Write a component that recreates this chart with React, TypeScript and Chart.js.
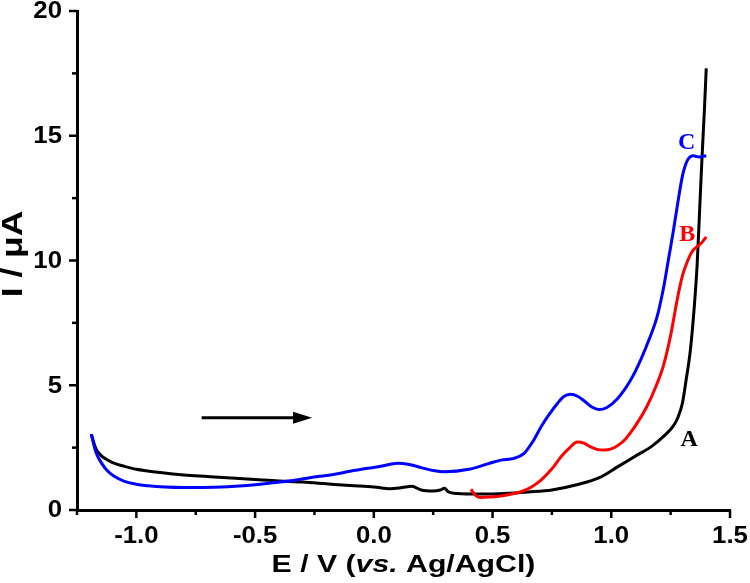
import React, { useEffect, useRef } from "react";
import { Chart, registerables } from "chart.js";

Chart.register(...registerables);

// ---- data ----
const curveA_E = [-1.19, -1.17, -1.15, -1.13, -1.1, -1.05, -1.0, -0.9, -0.8, -0.7, -0.6, -0.5, -0.4, -0.3, -0.2, -0.1, 0.0, 0.07, 0.12, 0.16, 0.2, 0.25, 0.28, 0.297, 0.315, 0.35, 0.45, 0.55, 0.65, 0.75, 0.85, 0.95, 1.03, 1.1, 1.17, 1.22, 1.26, 1.28, 1.3, 1.315, 1.333, 1.35, 1.362, 1.372, 1.382, 1.392, 1.4];
const curveA_I = [3.04, 2.45, 2.2, 2.05, 1.9, 1.75, 1.63, 1.5, 1.4, 1.34, 1.28, 1.22, 1.16, 1.12, 1.05, 0.98, 0.92, 0.85, 0.9, 0.95, 0.8, 0.76, 0.8, 0.87, 0.72, 0.66, 0.64, 0.66, 0.72, 0.8, 1.0, 1.3, 1.75, 2.15, 2.55, 2.95, 3.35, 3.7, 4.3, 5.2, 6.4, 8.2, 9.9, 12.0, 14.1, 16.0, 17.7];

const curveB_E = [0.409, 0.43, 0.45, 0.49, 0.535, 0.58, 0.62, 0.66, 0.704, 0.75, 0.788, 0.82, 0.857, 0.885, 0.913, 0.94, 0.969, 1.0, 1.03, 1.06, 1.1, 1.15, 1.19, 1.22, 1.25, 1.277, 1.3, 1.32, 1.34, 1.36, 1.38, 1.4];
const curveB_I = [0.83, 0.58, 0.5, 0.52, 0.56, 0.64, 0.73, 0.9, 1.2, 1.65, 2.13, 2.45, 2.73, 2.68, 2.53, 2.43, 2.4, 2.45, 2.6, 2.85, 3.35, 4.15, 5.0, 5.8, 7.0, 8.4, 9.4, 9.95, 10.35, 10.55, 10.7, 10.95];

const curveC_E = [-1.19, -1.17, -1.146, -1.12, -1.09, -1.05, -1.0, -0.95, -0.88, -0.8, -0.67, -0.55, -0.46, -0.35, -0.25, -0.17, -0.1, -0.025, 0.03, 0.1, 0.15, 0.2, 0.25, 0.3, 0.4, 0.48, 0.535, 0.59, 0.633, 0.67, 0.704, 0.74, 0.773, 0.8, 0.829, 0.86, 0.885, 0.92, 0.948, 0.98, 1.025, 1.081, 1.123, 1.16, 1.193, 1.22, 1.24, 1.26, 1.28, 1.3, 1.32, 1.345, 1.37, 1.4];
const curveC_I = [3.04, 2.3, 1.87, 1.55, 1.33, 1.15, 1.03, 0.97, 0.92, 0.9, 0.91, 0.97, 1.05, 1.17, 1.32, 1.42, 1.55, 1.67, 1.75, 1.87, 1.82, 1.7, 1.58, 1.53, 1.63, 1.85, 2.0, 2.07, 2.27, 2.75, 3.33, 3.85, 4.27, 4.55, 4.64, 4.55, 4.38, 4.12, 4.03, 4.1, 4.45, 5.2, 6.0, 6.85, 7.75, 8.9, 10.0, 11.1, 12.3, 13.4, 14.0, 14.2, 14.15, 14.2];

const xTickLabels = ["-1.0", "-0.5", "0.0", "0.5", "1.0", "1.5"];
const yTickLabels = ["0", "5", "10", "15", "20"];

const curveNames = ["A", "B", "C"];
const curveColors = ["#000000", "#ff0000", "#0000ff"];
const labelE = [1.328, 1.32, 1.318];
const labelI = [2.87, 11.06, 14.77];

const arrowE = [-0.725, -0.26];
const arrowI = 3.7;

const X_MIN = -1.25;
const X_MAX = 1.5;
const Y_MIN = 0;
const Y_MAX = 20;

function pts(xs: number[], ys: number[]) {
  return xs.map((x, i) => ({ x, y: ys[i] }));
}

const SANS = "'Liberation Sans', Arial, sans-serif";

const decorPlugin = {
  id: "decor",
  afterDraw(chart: any) {
    const ctx = chart.ctx;
    const xs = chart.scales.x;
    const ys = chart.scales.y;
    const area = chart.chartArea;
    ctx.save();
    // ticks
    ctx.strokeStyle = "#000";
    ctx.lineWidth = 2.5;
    ctx.lineCap = "butt";
    for (let v = X_MIN; v <= X_MAX + 1e-9; v += 0.25) {
      const px = xs.getPixelForValue(v);
      const major = Math.abs(v * 2 - Math.round(v * 2)) < 1e-6;
      const len = major ? 8 : 5;
      ctx.beginPath();
      ctx.moveTo(px, area.bottom);
      ctx.lineTo(px, area.bottom + len);
      ctx.stroke();
    }
    for (let v = Y_MIN; v <= Y_MAX + 1e-9; v += 2.5) {
      const py = ys.getPixelForValue(v);
      const major = Math.abs(v / 5 - Math.round(v / 5)) < 1e-6;
      const len = major ? 8 : 5;
      ctx.beginPath();
      ctx.moveTo(area.left, py);
      ctx.lineTo(area.left - len, py);
      ctx.stroke();
    }
    // tick labels (slightly widened like the reference)
    const tsx = 1.12;
    ctx.fillStyle = "#000";
    ctx.font = "bold 23px " + SANS;
    ctx.textBaseline = "middle";
    xTickLabels.forEach((l) => {
      const px = xs.getPixelForValue(parseFloat(l));
      ctx.save();
      ctx.translate(px, area.bottom + 27);
      ctx.scale(tsx, 1);
      ctx.textAlign = "center";
      ctx.fillText(l, 0, 0);
      ctx.restore();
    });
    yTickLabels.forEach((l) => {
      const py = ys.getPixelForValue(parseFloat(l));
      ctx.save();
      ctx.translate(area.left - 15, py + 1);
      ctx.scale(tsx, 1);
      ctx.textAlign = "right";
      ctx.fillText(l, 0, 0);
      ctx.restore();
    });
    // arrow
    const ax0 = xs.getPixelForValue(arrowE[0]);
    const ax1 = xs.getPixelForValue(arrowE[1]);
    const ay = ys.getPixelForValue(arrowI);
    ctx.fillStyle = "#000";
    ctx.lineWidth = 3;
    ctx.beginPath();
    ctx.moveTo(ax0, ay);
    ctx.lineTo(ax1 - 14, ay);
    ctx.stroke();
    ctx.beginPath();
    ctx.moveTo(ax1, ay);
    ctx.lineTo(ax1 - 19, ay - 6);
    ctx.lineTo(ax1 - 19, ay + 6);
    ctx.closePath();
    ctx.fill();
    // curve labels
    ctx.font = "bold 24px 'Liberation Serif', 'DejaVu Serif', serif";
    ctx.textAlign = "center";
    ctx.textBaseline = "middle";
    curveNames.forEach((n, i) => {
      ctx.fillStyle = curveColors[i];
      ctx.fillText(n, xs.getPixelForValue(labelE[i]), ys.getPixelForValue(labelI[i]) + 1);
    });
    // x title with italic part (horizontally widened like the reference)
    const parts = [
      { t: "E / V (", f: "bold 24px " + SANS },
      { t: "vs.", f: "italic bold 24px " + SANS },
      { t: " Ag/AgCl)", f: "bold 24px " + SANS },
    ];
    let total = 0;
    parts.forEach((p) => {
      ctx.font = p.f;
      total += ctx.measureText(p.t).width;
    });
    const sx = 1.26;
    ctx.save();
    ctx.translate((area.left + area.right) / 2 - (total * sx) / 2, 572);
    ctx.scale(sx, 1);
    let cx = 0;
    ctx.fillStyle = "#000";
    ctx.textAlign = "left";
    ctx.textBaseline = "alphabetic";
    parts.forEach((p) => {
      ctx.font = p.f;
      ctx.fillText(p.t, cx, 0);
      cx += ctx.measureText(p.t).width;
    });
    ctx.restore();
    // y title
    ctx.save();
    ctx.translate(14, 254);
    ctx.rotate(-Math.PI / 2);
    ctx.scale(1.18, 1);
    ctx.font = "bold 30px " + SANS;
    ctx.textAlign = "center";
    ctx.textBaseline = "middle";
    ctx.fillStyle = "#000";
    ctx.fillText("I / \u03bcA", 0, 0);
    ctx.restore();
    ctx.restore();
  },
};

export default function App() {
  const ref = useRef<HTMLCanvasElement | null>(null);
  useEffect(() => {
    if (!ref.current) return;
    const mk = (label: string, xsv: number[], ysv: number[], color: string) => ({
      label,
      data: pts(xsv, ysv),
      borderColor: color,
      backgroundColor: color,
      borderWidth: 3,
      pointRadius: 0,
      fill: false,
      cubicInterpolationMode: "monotone" as const,
    });
    const zeroPad = (s: any) => {
      s.paddingTop = 0;
      s.paddingBottom = 0;
      s.paddingLeft = 0;
      s.paddingRight = 0;
    };
    const chart = new Chart(ref.current, {
      type: "line",
      data: {
        datasets: [
          mk("C", curveC_E, curveC_I, curveColors[2]),
          mk("B", curveB_E, curveB_I, curveColors[1]),
          mk("A", curveA_E, curveA_I, curveColors[0]),
        ],
      },
      options: {
        animation: false,
        responsive: false,
        devicePixelRatio: 1,
        layout: { padding: { top: 11, right: 20, left: 0, bottom: 0 } },
        plugins: { legend: { display: false }, tooltip: { enabled: false }, title: { display: false } },
        scales: {
          x: {
            type: "linear",
            min: X_MIN,
            max: X_MAX,
            grid: { display: false, drawTicks: false },
            border: { display: true, color: "#000", width: 3 },
            ticks: { display: false, stepSize: 0.25 },
            afterFit: (s: any) => {
              s.height = 73;
              zeroPad(s);
            },
          },
          y: {
            type: "linear",
            min: Y_MIN,
            max: Y_MAX,
            grid: { display: false, drawTicks: false },
            border: { display: true, color: "#000", width: 3 },
            ticks: { display: false, stepSize: 2.5 },
            afterFit: (s: any) => {
              s.width = 77;
              zeroPad(s);
            },
          },
        },
      },
      plugins: [decorPlugin],
    });
    return () => chart.destroy();
  }, []);
  return (
    <div style={{ position: "absolute", left: 0, top: 0, width: 750, height: 583, background: "#fff" }}>
      <canvas ref={ref} width={750} height={583} style={{ display: "block" }} />
    </div>
  );
}
